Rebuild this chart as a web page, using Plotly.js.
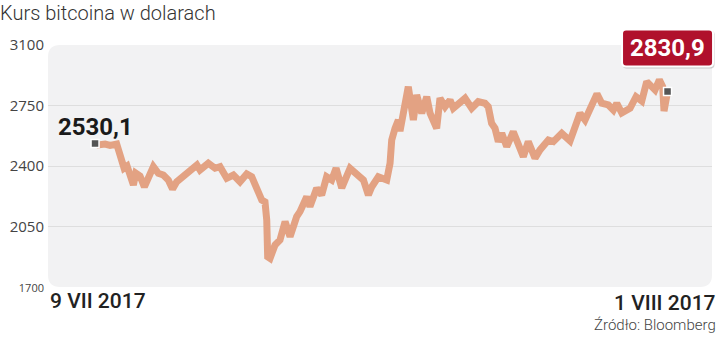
<!DOCTYPE html>
<html>
<head>
<meta charset="utf-8">
<script src="https://cdn.plot.ly/plotly-3.0.1.min.js"></script>
<style>
html,body{margin:0;padding:0;background:#fff;}
#chart{width:720px;height:343px;}
</style>
</head>
<body>
<div id="chart"></div>
<script>
// Hours after 9 VII 2017 00:00
const hours = [0,2.9,9.7,14.5,20.9,25.8,28,30.9,33.8,37,
39.3,43.4,47.6,51.4,56.3,61.1,65.9,70.7,74.8,78.8,
86.9,93.3,98.3,101.3,109.3,115.8,120.6,127.1,133.5,139.9,
146.4,151.2,156,160.9,164,165.7,166.6,168.9,173.7,178.5,
183.4,188.2,194.6,197.8,204.3,207.4,213.9,218.7,223.5,228.4,
232.6,238.1,246.1,252.6,259,263.8,267.1,273.4,281.5,284.7,
286.3,289.5,292.7,294.3,299.2,302.3,307.2,310.4,315.3,320.1,
323.3,329.7,332.9,337.8,342.6,345.8,357.1,363.5,369.8,376.3,
379.5,382.7,386,389.2,392.5,397.3,403.6,408.5,413.3,418.1,
424.6,429.4,437.5,442.3,450.4,458.4,461.6,464.9,468,472.9,
479.4,484.4,489,495.4,500.2,503.5,508.3,516.3,522.1,527.6,
532.4,537.2,540.4,544.6,547.8,549.1,551.7,552.5];

// Bitcoin price in USD
const prices = [2530.1,2522,2527,2519,2527,2425,2388,2400,2359,2290,
2359,2342,2279,2336,2396,2358,2348,2319,2267,2309,
2348,2387,2406,2377,2416,2387,2396,2329,2348,2309,
2354,2338,2280,2203,2192,2088,1875,1866,1943,1972,
2078,1991,2107,2136,2222,2165,2271,2232,2338,2319,
2387,2273,2387,2348,2319,2232,2280,2338,2319,2416,
2550,2618,2666,2602,2788,2859,2666,2811,2705,2801,
2705,2618,2792,2743,2782,2734,2792,2734,2772,2763,
2743,2647,2618,2541,2589,2512,2598,2512,2454,2541,
2446,2493,2550,2541,2589,2545,2597,2647,2705,2666,
2763,2817,2763,2753,2724,2763,2707,2734,2801,2776,
2888,2850,2840,2898,2859,2718,2782,2830.9];

const yTickVals = [1700, 2050, 2400, 2750, 3100];
const yTickText = ['<span style="font-size:11px">1700</span>', '2050', '2400', '2750', '3100'];
const xLabels = ['9 VII 2017', '1 VIII 2017'];
const titleText = 'Kurs bitcoina w dolarach';
const sourceText = 'Źródło: Bloomberg';

const startMs = Date.UTC(2017, 6, 9);
const HOUR = 3600e3;
const dates = hours.map(h => startMs + h * HOUR);
const n = prices.length;
const fmt = v => v.toFixed(1).replace('.', ',');

function roundRect(x0, y0, x1, y1, rx, ry) {
  return `M${x0+rx},${y0} L${x1-rx},${y0} Q${x1},${y0} ${x1},${y0+ry} L${x1},${y1-ry} Q${x1},${y1} ${x1-rx},${y1} L${x0+rx},${y1} Q${x0},${y1} ${x0},${y1-ry} L${x0},${y0+ry} Q${x0},${y0} ${x0+rx},${y0} Z`;
}

const plotW = 664, plotH = 242;
const xRange = [startMs - 45.4 * HOUR, startMs + 595.4 * HOUR];
const yRange = [1700, 3100];
const bgPath = roundRect(0, 0, 1, 1, 12/plotW, 12/plotH);

// paper position of the last point (for the unclipped label box)
const lastXP = (dates[n-1] - xRange[0]) / (xRange[1] - xRange[0]);
const lastYP = (prices[n-1] - yRange[0]) / (yRange[1] - yRange[0]);

const traces = [
  {
    x: dates, y: prices, type: 'scatter', mode: 'lines',
    line: {color: '#e3a283', width: 7, shape: 'linear'},
    hoverinfo: 'skip'
  },
  {
    x: [dates[0], dates[n-1]], y: [prices[0], prices[n-1]],
    type: 'scatter', mode: 'markers',
    marker: {symbol: 'square', size: 8, color: '#555', line: {color: '#fff', width: 1.5}},
    hoverinfo: 'skip'
  }
];

const boxPath = roundRect(-45.5, 25, 45.5, 62, 4, 4);
const shadowPath = roundRect(-45, 23, 47, 61, 4, 4);

const layout = {
  width: 720, height: 343,
  margin: {l: 48, r: 8, t: 45, b: 56, pad: 0},
  paper_bgcolor: '#ffffff',
  plot_bgcolor: 'rgba(0,0,0,0)',
  showlegend: false,
  title: {
    text: titleText,
    xref: 'container', yref: 'container', x: 0, y: 1 - 13/343,
    xanchor: 'left', yanchor: 'middle', pad: {l: 0, t: 0, r: 0, b: 0},
    font: {family: 'Roboto, sans-serif', size: 20, color: '#333', weight: 300}
  },
  xaxis: {
    type: 'date', range: xRange,
    showgrid: false, zeroline: false, showline: false, showticklabels: false, ticks: '',
    fixedrange: true
  },
  yaxis: {
    range: yRange,
    tickmode: 'array', tickvals: yTickVals, ticktext: yTickText,
    showgrid: true, gridcolor: '#dedede', gridwidth: 1,
    zeroline: false, showline: false, ticks: '',
    ticklabelstandoff: 3,
    tickfont: {family: 'Open Sans, sans-serif', size: 15, color: '#444'},
    fixedrange: true
  },
  shapes: [
    {type: 'path', xref: 'paper', yref: 'paper', path: bgPath, fillcolor: '#f2f2f3', line: {width: 0}, layer: 'below'},
    {type: 'path', xref: 'paper', yref: 'paper', xsizemode: 'pixel', ysizemode: 'pixel',
     xanchor: lastXP, yanchor: lastYP, path: shadowPath,
     fillcolor: 'rgba(0,0,0,0.18)', line: {width: 0}, layer: 'above'},
    {type: 'path', xref: 'paper', yref: 'paper', xsizemode: 'pixel', ysizemode: 'pixel',
     xanchor: lastXP, yanchor: lastYP, path: boxPath,
     fillcolor: '#b0112c', line: {color: '#ffffff', width: 2}, layer: 'above'}
  ],
  annotations: [
    {x: dates[0], y: prices[0], xref: 'x', yref: 'y', text: '<b>' + fmt(prices[0]) + '</b>',
     showarrow: false, xanchor: 'center', yanchor: 'middle', yshift: 17,
     font: {family: 'Roboto, sans-serif', size: 24, color: '#1a1a1a'}},
    {x: dates[n-1], y: prices[n-1], xref: 'x', yref: 'y', text: '<b>' + fmt(prices[n-1]) + '</b>',
     showarrow: false, xanchor: 'center', yanchor: 'middle', yshift: 44,
     font: {family: 'Roboto, sans-serif', size: 24, color: '#ffffff'}},
    {x: 0, y: -14/plotH, xref: 'paper', yref: 'paper', text: xLabels[0],
     showarrow: false, xanchor: 'left', yanchor: 'middle',
     font: {family: 'Roboto, sans-serif', size: 21, color: '#222', weight: 500}},
    {x: (718-48)/plotW, y: -16/plotH, xref: 'paper', yref: 'paper', text: xLabels[1],
     showarrow: false, xanchor: 'right', yanchor: 'middle',
     font: {family: 'Roboto, sans-serif', size: 21, color: '#222', weight: 500}},
    {x: (718-48)/plotW, y: -38/plotH, xref: 'paper', yref: 'paper', text: sourceText,
     showarrow: false, xanchor: 'right', yanchor: 'middle',
     font: {family: 'Roboto, sans-serif', size: 15, color: '#444', weight: 300}}
  ]
};

Plotly.newPlot('chart', traces, layout, {displayModeBar: false, staticPlot: true});
</script>
</body>
</html>
